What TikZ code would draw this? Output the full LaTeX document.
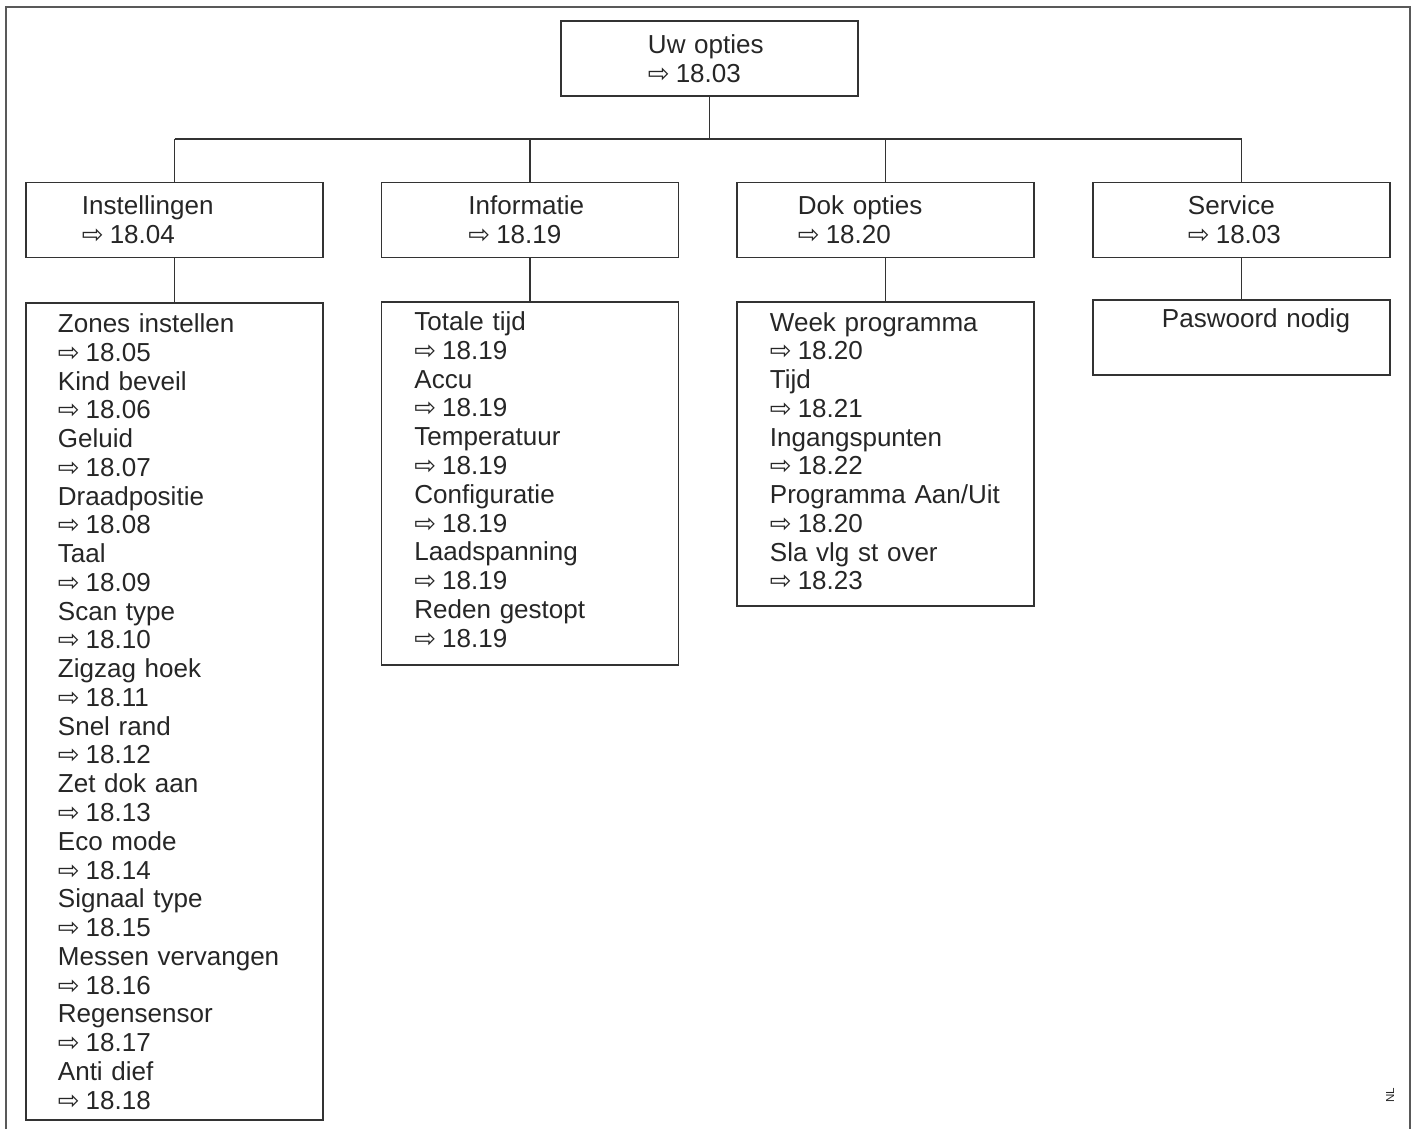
\documentclass[tikz,border=0pt]{standalone}
\usepackage{fontspec}
\setmainfont{Liberation Sans}
\newfontfamily\arrowfont{DejaVu Sans}
\newcommand{\verw}[1]{{\arrowfont ⇨}\hspace{0.06cm}#1}

\begin{document}
\begin{tikzpicture}[x=0.01cm, y=-0.01cm, every node/.style={font=\fontsize{7.4}{8.18}\selectfont, text=black!85}, lijn/.style={draw=black!80, line width=0.5pt}, box/.style={lijn, minimum width=2.97cm, minimum height=0.75cm, text width=2.97cm, inner xsep=0pt, inner ysep=2pt, align=left, execute at begin node={\leftskip=#1}}]
	\useasboundingbox (0,0) rectangle (1415,1129);
	\draw[draw=black!65, line width=0.6pt] (6,1129) -- (6,7) -- (1410,7) -- (1410,1129);
	% top
	\node[box=0.87cm] (opties) at (709.5,58.5) {Uw opties\\\verw{18.03}};
	% second row
	\node[box=0.56cm] (inst) at (174.5,220) {Instellingen\\\verw{18.04}};
	\node[box=0.87cm] (info) at (530,220) {Informatie\\\verw{18.19}};
	\node[box=0.61cm] (dok) at (885.5,220) {Dok opties\\\verw{18.20}};
	\node[box=0.95cm] (serv) at (1241.5,220) {Service\\\verw{18.03}};
	% lists
	\node[box=0.32cm, minimum height=8.17cm] (instlijst) at (174.5,711.5) {Zones instellen\\\verw{18.05}\\Kind beveil\\\verw{18.06}\\Geluid\\\verw{18.07}\\Draadpositie\\\verw{18.08}\\Taal\\\verw{18.09}\\Scan type\\\verw{18.10}\\Zigzag hoek\\\verw{18.11}\\Snel rand\\\verw{18.12}\\Zet dok aan\\\verw{18.13}\\Eco mode\\\verw{18.14}\\Signaal type\\\verw{18.15}\\Messen vervangen\\\verw{18.16}\\Regensensor\\\verw{18.17}\\Anti dief\\\verw{18.18}};
	\node[box=0.33cm, minimum height=3.63cm, text depth=92.3pt] (infolijst) at (530,483.5) {Totale tijd\\\verw{18.19}\\Accu\\\verw{18.19}\\Temperatuur\\\verw{18.19}\\Configuratie\\\verw{18.19}\\Laadspanning\\\verw{18.19}\\Reden gestopt\\\verw{18.19}};
	\node[box=0.33cm, minimum height=3.04cm, text depth=75.3pt] (doklijst) at (885.5,454) {Week programma\\\verw{18.20}\\Tijd\\\verw{18.21}\\Ingangspunten\\\verw{18.22}\\Programma Aan/Uit\\\verw{18.20}\\Sla vlg st over\\\verw{18.23}};
	\node[box=0.69cm, text depth=0.39cm] (servlijst) at (1241.5,337.5) {Paswoord nodig};
	% connectors
	\coordinate (bus) at (709.5,139);
	\draw[lijn] (opties.south) -- (opties.south |- bus);
	\draw[lijn] (inst.north |- bus) -- (serv.north |- bus);
	\foreach \n/\m in {inst/instlijst, info/infolijst, dok/doklijst, serv/servlijst} {
		\draw[lijn] (\n.north |- bus) -- (\n.north);
		\draw[lijn] (\n.south) -- (\m.north);
	}
	\node[rotate=90, font=\fontsize{3.3}{4}\selectfont] (nl) at (1390,1095) {NL};
\end{tikzpicture}
\end{document}
